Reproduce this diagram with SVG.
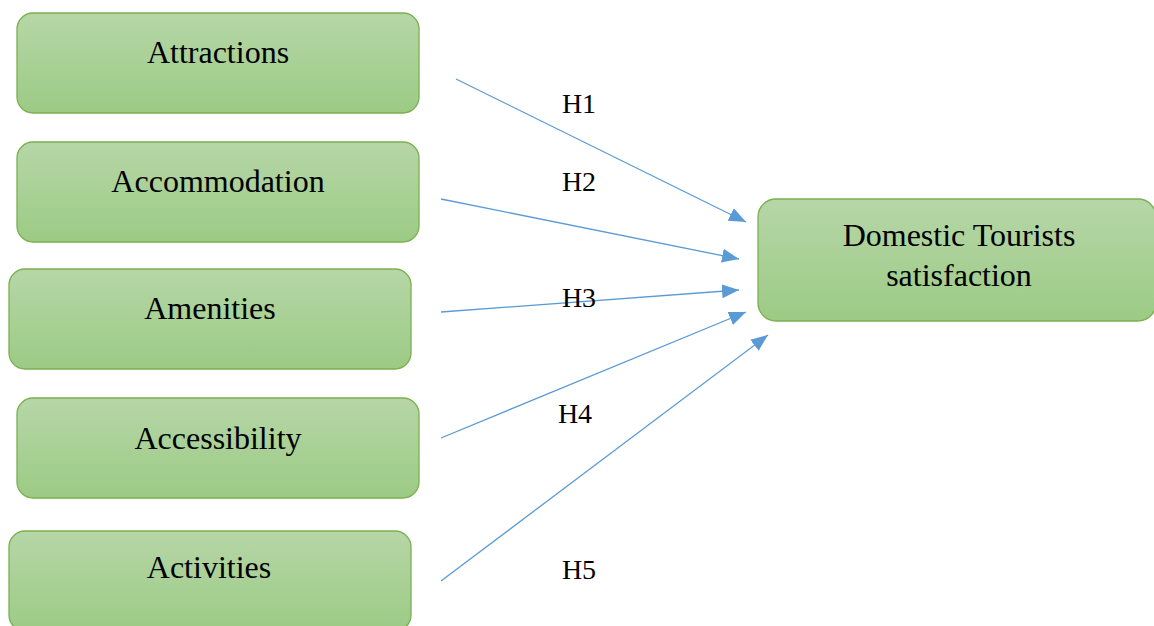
<svg xmlns="http://www.w3.org/2000/svg" width="1154" height="626" viewBox="0 0 1154 626">
<style>
.box{fill:url(#g);stroke:#7bb04f;stroke-width:1.3}
.t{font-family:"Liberation Serif","Times New Roman",serif;font-size:32px;fill:#000;text-anchor:middle}
.h{font-family:"Liberation Serif","Times New Roman",serif;font-size:28px;fill:#000;text-anchor:middle}
.c{stroke:#5b9bd5;stroke-width:1.3;fill:none;marker-end:url(#a)}
</style>
<defs>
<linearGradient id="g" x1="0" y1="0" x2="0" y2="1">
<stop offset="0" stop-color="#b6d6a7"/>
<stop offset="1" stop-color="#9ccb85"/>
</linearGradient>
<marker id="a" markerUnits="userSpaceOnUse" markerWidth="18" markerHeight="14" refX="17" refY="7" orient="auto">
<path d="M0,0 L17,7 L0,14 Z" fill="#5b9bd5"/>
</marker>
</defs>
<rect width="1154" height="626" fill="#fff"/>
<g id="attractions"><rect class="box" x="17" y="13" width="402" height="100" rx="16"/><text class="t" x="218" y="63">Attractions</text></g>
<g id="accommodation"><rect class="box" x="17" y="142" width="402" height="100" rx="16"/><text class="t" x="218" y="192">Accommodation</text></g>
<g id="amenities"><rect class="box" x="9" y="269" width="402" height="100" rx="16"/><text class="t" x="210" y="319">Amenities</text></g>
<g id="accessibility"><rect class="box" x="17" y="398" width="402" height="100" rx="16"/><text class="t" x="218" y="449">Accessibility</text></g>
<g id="activities"><rect class="box" x="9" y="531" width="402" height="100" rx="16"/><text class="t" x="209" y="578">Activities</text></g>
<g id="satisfaction"><rect class="box" x="758" y="199" width="398" height="122" rx="18"/><text class="t" x="959" y="246">Domestic Tourists</text><text class="t" x="959" y="286">satisfaction</text></g>
<g id="connectors">
<line class="c" x1="456" y1="79" x2="746" y2="222"/>
<line class="c" x1="441" y1="199" x2="739" y2="259"/>
<line class="c" x1="441" y1="312" x2="739" y2="290"/>
<line class="c" x1="441" y1="438" x2="746" y2="312"/>
<line class="c" x1="441" y1="581" x2="768" y2="335"/>
</g>
<g id="labels">
<text class="h" x="579" y="113">H1</text>
<text class="h" x="579" y="191">H2</text>
<text class="h" x="579" y="307">H3</text>
<text class="h" x="575" y="423">H4</text>
<text class="h" x="579" y="579">H5</text>
</g>
</svg>
